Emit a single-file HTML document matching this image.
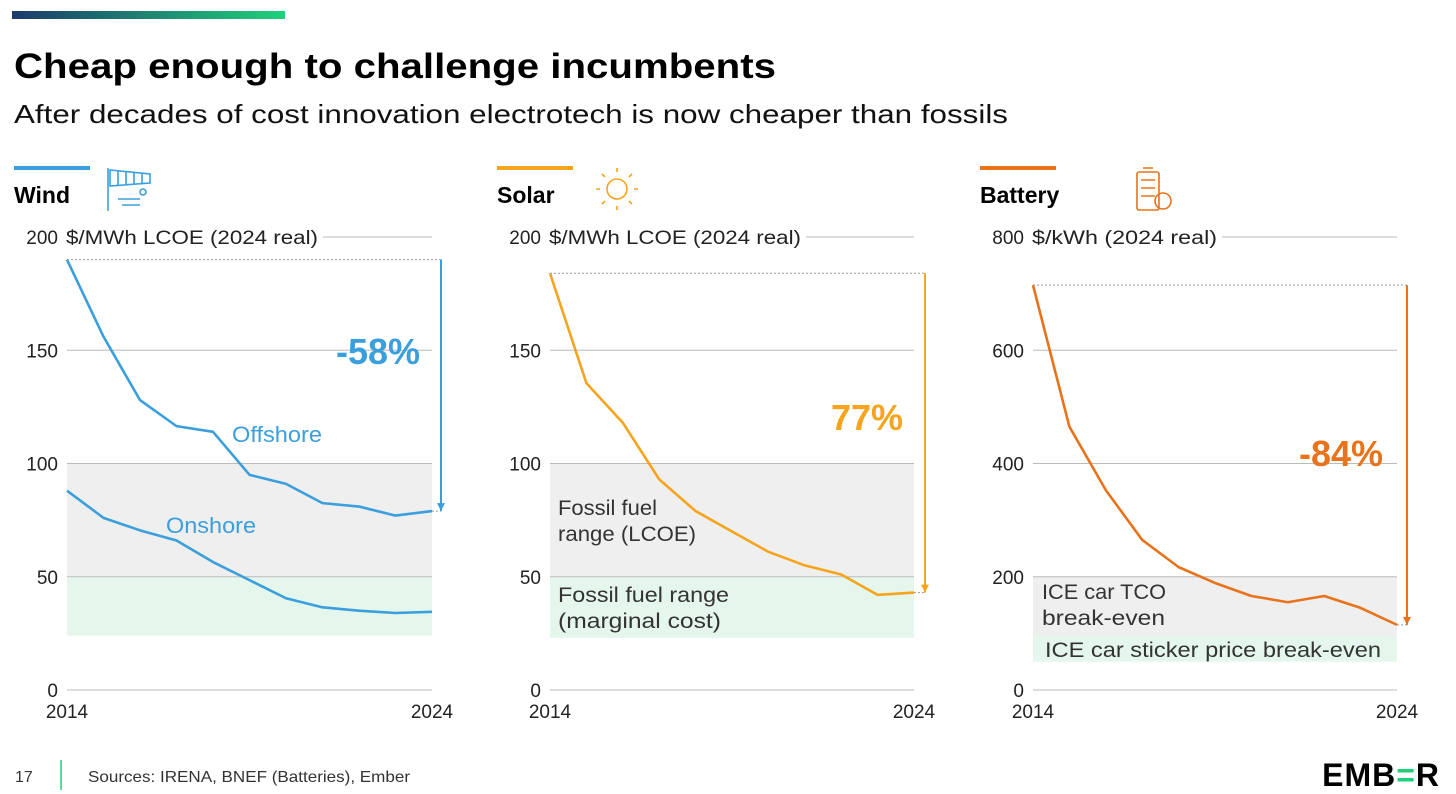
<!DOCTYPE html>
<html><head><meta charset="utf-8"><style>
body{margin:0;background:#fff;width:1456px;height:794px;overflow:hidden;font-family:"Liberation Sans",sans-serif}
svg{display:block}
</style></head><body>
<svg id="s" width="1456" height="794" xmlns="http://www.w3.org/2000/svg">
<defs><linearGradient id="g" x1="0" x2="1"><stop offset="0" stop-color="#1c3a6b"/><stop offset="1" stop-color="#1fd17a"/></linearGradient></defs>
<rect x="12" y="11" width="273" height="8" fill="url(#g)"/>
<text x="14" y="78" font-size="35" font-weight="bold" fill="#000" textLength="762" lengthAdjust="spacingAndGlyphs">Cheap enough to challenge incumbents</text>
<text x="14" y="123" font-size="26" fill="#111" textLength="994" lengthAdjust="spacingAndGlyphs">After decades of cost innovation electrotech is now cheaper than fossils</text>
<text x="15" y="782" font-size="16" fill="#333">17</text>
<line x1="61" y1="760" x2="61" y2="790" stroke="#1fd17a" stroke-width="1.5"/>
<text x="88" y="782" font-size="16" fill="#333" textLength="322" lengthAdjust="spacingAndGlyphs">Sources: IRENA, BNEF (Batteries), Ember</text>
<text x="1440" y="786" font-size="32" font-weight="bold" text-anchor="end" fill="#000" letter-spacing="1">EMB<tspan fill="#1fd17a">=</tspan>R</text>
<g id="charts"></g>
</svg>
<script>
const years=[2014,2015,2016,2017,2018,2019,2020,2021,2022,2023,2024];
const windOffshore=[190,156,128,116.5,114,95,91,82.5,81,77,79];
const windOnshore=[88,76,70.5,66,56.5,48.5,40.5,36.5,35,34,34.5];
const solarPV=[184,135.5,118,93,79,70,61,55,51,42,43];
const batteryPack=[715,465,353,265,217,189,166,155,166,145,115];
const windTicks=[0,50,100,150,200];
const solarTicks=[0,50,100,150,200];
const batteryTicks=[0,200,400,600,800];
const windBands=[[50,100],[24,50]];
const solarBands=[[50,100],[23,50]];
const batteryBands=[[95,200],[50,95]];
const changeLabels=["-58%","77%","-84%"];
const NS="http://www.w3.org/2000/svg";
const root=document.getElementById('charts');
function el(tag,attrs,parent,txt){const e=document.createElementNS(NS,tag);for(const k in attrs)e.setAttribute(k,attrs[k]);if(txt!==undefined)e.textContent=txt;(parent||root).appendChild(e);return e;}
const panels=[
 {name:'wind',title:'Wind',unit:'$/MWh LCOE (2024 real)',uw:252,x0:67,x1:432,max:200,ticks:windTicks,bands:windBands,series:[windOffshore,windOnshore],color:'#3a9fdc',label:changeLabels[0],lx:420,ly:364,arrowX:441},
 {name:'solar',title:'Solar',unit:'$/MWh LCOE (2024 real)',uw:252,x0:550,x1:914,max:200,ticks:solarTicks,bands:solarBands,series:[solarPV],color:'#f5a41c',label:changeLabels[1],lx:903,ly:430,arrowX:925},
 {name:'battery',title:'Battery',unit:'$/kWh (2024 real)',uw:185,x0:1033,x1:1397,max:800,ticks:batteryTicks,bands:batteryBands,series:[batteryPack],color:'#e8731a',label:changeLabels[2],lx:1383,ly:466,arrowX:1407}
];
const yTop=237,yBot=690;
panels.forEach(p=>{
 const g=el('g',{});
 
 
 const X=i=>p.x0+(p.x1-p.x0)*(years[i]-years[0])/(years[years.length-1]-years[0]);
 const Y=v=>yBot-(yBot-yTop)*v/p.max;
 const L=p.x0-53;
 const bar=el('rect',{x:L,y:166,width:76,height:4,fill:p.color},g);
 
 
 const t=el('text',{x:L,y:203,'font-size':23,'font-weight':'bold',fill:'#000'},g,p.title);
 
 
 p.bands.forEach((b,i)=>{
  const r=el('rect',{x:p.x0,y:Y(b[1]),width:p.x1-p.x0,height:Y(b[0])-Y(b[1]),fill:i==0?'#efefef':'#e5f7ec'},g);
  
  
 });
 p.ticks.forEach((v,i)=>{
  if(v>0&&i<p.ticks.length-1){const gl=el('line',{x1:p.x0,x2:p.x1,y1:Y(v),y2:Y(v),stroke:'#bbb'},g);}
  const tl=el('text',{x:p.x0-9,y:Y(v)+7,'font-size':19,'text-anchor':'end',fill:'#222'},g,String(v));
  
  
 });
 const ut=el('text',{x:p.x0-1,y:yTop+7,'font-size':19,fill:'#222',textLength:p.uw,lengthAdjust:'spacingAndGlyphs'},g,p.unit);
 
 
 const tg=el('line',{x1:p.x0+p.uw+4,x2:p.x1,y1:yTop,y2:yTop,stroke:'#bbb'},g);
 
 const ax=el('line',{x1:p.x0,x2:p.x1,y1:yBot,y2:yBot,stroke:'#bbb'},g);
 
 [0,years.length-1].forEach(i=>{
  const xl=el('text',{x:X(i),y:yBot+28,'font-size':19,'text-anchor':'middle',fill:'#222'},g,String(years[i]));
  
 });
 p.series.forEach((s,k)=>{
  const pl=el('polyline',{points:s.map((v,i)=>X(i)+','+Y(v)).join(' '),fill:'none',stroke:p.color,'stroke-width':2.6,'stroke-linejoin':'round'},g);
  
 });
 const s0=p.series[0];
 const ys=Y(s0[0]),ye=Y(s0[s0.length-1]);
 const dl=el('line',{x1:X(0),x2:p.arrowX,y1:ys,y2:ys,stroke:'#999','stroke-dasharray':'2,2'},g);
 
 const dl2=el('line',{x1:X(s0.length-1),x2:p.arrowX,y1:ye,y2:ye,stroke:'#999','stroke-dasharray':'2,2'},g);
 
 const ar=el('line',{x1:p.arrowX,x2:p.arrowX,y1:ys,y2:ye,stroke:p.color,'stroke-width':2},g);
 
 const ah=el('path',{d:`M${p.arrowX-4},${ye-8} L${p.arrowX},${ye} L${p.arrowX+4},${ye-8} Z`,fill:p.color},g);
 
 const cl=el('text',{x:p.lx,y:p.ly,'font-size':36,'font-weight':'bold','text-anchor':'end',fill:p.color},g,p.label);
 
});
function note(x,y,txt,fill,size,len,name){const t=el('text',{x:x,y:y,'font-size':size,fill:fill,textLength:len,lengthAdjust:'spacingAndGlyphs'},root,txt);}
note(232,442,'Offshore','#3a9fdc',22,90,'offshore-label');
note(166,533,'Onshore','#3a9fdc',22,90,'onshore-label');
note(558,515,'Fossil fuel','#333',21,99,'fossil-lcoe-label-1');
note(558,541,'range (LCOE)','#333',21,138,'fossil-lcoe-label-2');
note(558,602,'Fossil fuel range','#333',21,171,'fossil-marginal-label-1');
note(558,628,'(marginal cost)','#333',21,163,'fossil-marginal-label-2');
note(1042,599,'ICE car TCO','#333',21,124,'ice-tco-label-1');
note(1042,625,'break-even','#333',21,123,'ice-tco-label-2');
note(1045,657,'ICE car sticker price break-even','#333',21,336,'ice-sticker-label');
const ic=el('g',{fill:'none','stroke-width':1.6});
el('path',{d:'M108,168 V211 M110,170 L150,174 V183 L110,186 Z M118,171 V185 M126,172 V184 M134,173 V184 M142,173 V183 M118,199 H140 M122,205 H140',stroke:'#3a9fdc'},ic);
el('circle',{cx:143,cy:192,r:3,stroke:'#3a9fdc'},ic);
el('circle',{cx:617,cy:189,r:10,stroke:'#f5a41c'},ic);
el('path',{d:'M617,172 V168 M617,206 V210 M600,189 H596 M634,189 H638 M605,177 L602,174 M629,177 L632,174 M605,201 L602,204 M629,201 L632,204',stroke:'#f5a41c'},ic);
el('rect',{x:1137,y:172,width:22,height:38,rx:2,stroke:'#e8731a'},ic);
el('path',{d:'M1143,168 H1153 M1141,180 H1155 M1141,188 H1155 M1141,196 H1155',stroke:'#e8731a'},ic);
el('circle',{cx:1163,cy:201,r:8,stroke:'#e8731a'},ic);
</script>
</body></html>
